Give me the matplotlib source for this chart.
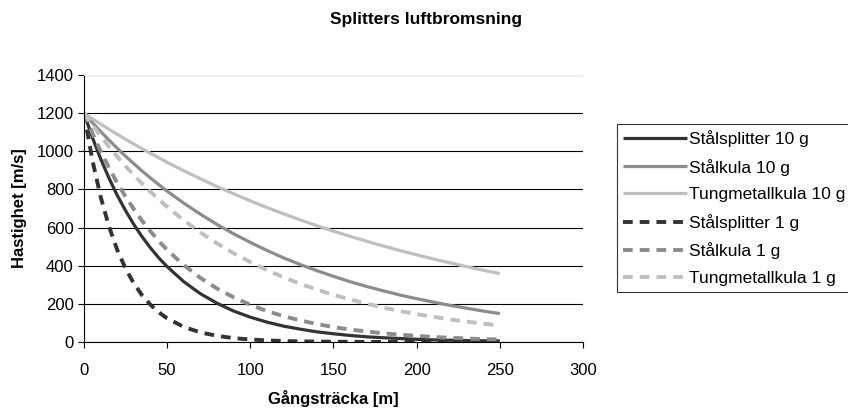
import matplotlib.pyplot as plt

plt.rcParams['font.family'] = ['Liberation Sans', 'DejaVu Sans']

# distance [m]
x = [0, 5, 10, 15, 20, 25, 30, 35, 40, 45, 50,
     60, 70, 80, 90, 100, 110, 120, 130, 140, 150,
     160, 170, 180, 190, 200, 210, 220, 230, 240, 250]

# speed [m/s]
stalsplitter_10 = [1200, 1074, 961, 860, 769, 689, 616, 551, 493, 441, 395,
                   316, 253, 203, 162, 130, 104, 83, 67, 53, 43,
                   34, 27, 22, 18, 14, 11, 9, 7, 6, 5]
stalkula_10 = [1200, 1151, 1104, 1059, 1016, 974, 935, 896, 860, 825, 791,
               728, 670, 616, 567, 522, 480, 441, 406, 374, 344,
               316, 291, 268, 246, 227, 209, 192, 177, 162, 149]
tungmetall_10 = [1200, 1171, 1143, 1116, 1089, 1063, 1038, 1013, 989, 966, 942,
                 898, 856, 815, 777, 740, 705, 672, 640, 610, 581,
                 554, 528, 503, 479, 457, 435, 415, 395, 376, 359]
stalsplitter_1 = [1200, 956, 762, 607, 483, 385, 307, 244, 195, 155, 124,
                  79, 50, 32, 20, 13, 8, 5, 3, 2, 1,
                  1, 0, 0, 0, 0, 0, 0, 0, 0, 0]
stalkula_1 = [1200, 1096, 1001, 914, 834, 762, 696, 635, 580, 529, 483,
              403, 336, 280, 234, 195, 162, 135, 113, 94, 78,
              65, 55, 45, 38, 32, 26, 22, 18, 15, 13]
tungmetall_1 = [1200, 1138, 1080, 1025, 972, 922, 875, 830, 788, 747, 709,
                638, 574, 517, 465, 419, 377, 339, 305, 275, 247,
                223, 200, 180, 162, 146, 132, 118, 107, 96, 86]

series = [
    ('Stålsplitter 10 g', stalsplitter_10, '#333333', '-'),
    ('Stålkula 10 g', stalkula_10, '#8c8c8c', '-'),
    ('Tungmetallkula 10 g', tungmetall_10, '#bfbfbf', '-'),
    ('Stålsplitter 1 g', stalsplitter_1, '#333333', '--'),
    ('Stålkula 1 g', stalkula_1, '#8c8c8c', '--'),
    ('Tungmetallkula 1 g', tungmetall_1, '#bfbfbf', '--'),
]

fig = plt.figure(figsize=(8.48, 4.11), dpi=100)
ax = fig.add_axes([0.099, 0.168, 0.5885, 0.6495])

for label, y, color, ls in series:
    if ls == '-':
        ax.plot(x, y, color=color, lw=2.3, label=label, solid_capstyle='butt')
    else:
        ax.plot(x, y, color=color, lw=2.8, dashes=(2.5, 1.8), label=label)

ax.set_xlim(0, 300)
ax.set_ylim(0, 1400)
ax.set_xticks(range(0, 301, 50))
ax.set_yticks(range(0, 1401, 200))
ax.yaxis.grid(True, color='#000000', lw=0.8)
ax.set_axisbelow(True)
ax.tick_params(labelsize=12, direction='out', length=4, width=0.8, color='#000000')
ax.tick_params(axis='x', pad=11)

ax.spines['right'].set_visible(False)
ax.spines['top'].set_color('#eeeeee')
ax.spines['left'].set_color('#000000')
ax.spines['bottom'].set_color('#000000')

ax.set_xlabel('Gångsträcka [m]', fontsize=12, fontweight='bold', labelpad=9)
ax.set_ylabel('Hastighet [m/s]', fontsize=12, fontweight='bold', labelpad=7)
fig.text(0.503, 0.952, 'Splitters luftbromsning', ha='center', va='center',
         fontsize=12.5, fontweight='bold')

leg = ax.legend(loc='upper left', bbox_to_anchor=(0.7275, 0.698), bbox_transform=fig.transFigure,
                fontsize=12.5, frameon=True, fancybox=False, handlelength=3.7,
                handletextpad=0.1, labelspacing=0.66, borderpad=0.35, borderaxespad=0)
leg.get_frame().set_edgecolor('#000000')
leg.get_frame().set_linewidth(0.8)

fig.savefig('out.png', dpi=100)
